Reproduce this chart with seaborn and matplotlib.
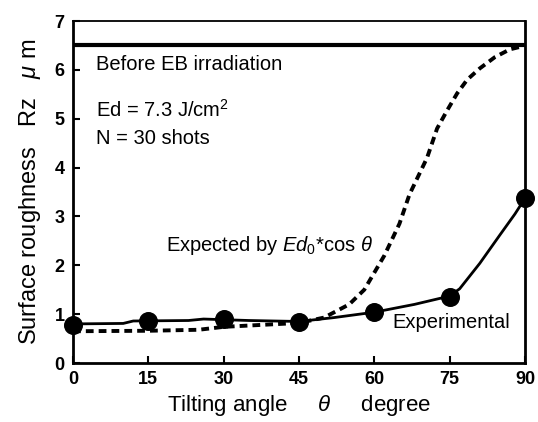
import matplotlib
matplotlib.use("Agg")
import matplotlib.pyplot as plt
import seaborn as sns
import pandas as pd

# Experimental data points
exp_angle = [0, 15, 30, 45, 60, 75, 90]
exp_rz = [0.78, 0.86, 0.90, 0.84, 1.04, 1.35, 3.37]

# Experimental guide line
fit_angle = [0, 10, 12, 23, 26, 35, 45, 52, 60, 68, 75, 77, 81, 85, 88, 90]
fit_rz = [0.80, 0.81, 0.86, 0.87, 0.90, 0.87, 0.85, 0.93, 1.04, 1.20, 1.37, 1.52, 2.04, 2.62, 3.05, 3.37]

# Expected curve Ed0*cos(theta)
expc_angle = [0, 15, 25, 30, 45, 50, 55, 58, 62, 65, 67, 70.5, 72.5, 74.5, 76.5, 78.5, 81, 84, 87, 89]
expc_rz = [0.65, 0.66, 0.68, 0.74, 0.82, 0.93, 1.2, 1.5, 2.2, 2.85, 3.45, 4.2, 4.8, 5.17, 5.52, 5.8, 6.03, 6.26, 6.42, 6.47]

before_eb = 6.5

x_ticks = [0, 15, 30, 45, 60, 75, 90]
y_ticks = [0, 1, 2, 3, 4, 5, 6, 7]

sns.set_theme(style="ticks")
plt.rcParams['font.family'] = ['Liberation Sans', 'DejaVu Sans']
plt.rcParams['mathtext.fontset'] = 'custom'
plt.rcParams['mathtext.rm'] = 'Liberation Sans'
plt.rcParams['mathtext.it'] = 'Liberation Sans:italic'
plt.rcParams['text.color'] = 'black'
plt.rcParams['axes.labelcolor'] = 'black'
plt.rcParams['xtick.color'] = 'black'
plt.rcParams['ytick.color'] = 'black'

fig = plt.figure(figsize=(5.38, 4.22), dpi=100)
ax = fig.add_axes([0.1357, 0.1398, 0.9758 - 0.1357, 0.9502 - 0.1398])

df_fit = pd.DataFrame({"a": fit_angle, "r": fit_rz})
df_exp = pd.DataFrame({"a": exp_angle, "r": exp_rz})
df_expc = pd.DataFrame({"a": expc_angle, "r": expc_rz})

sns.lineplot(data=df_expc, x="a", y="r", ax=ax, color="black", lw=2.8,
             linestyle=(0, (2.0, 1.3)), estimator=None, sort=False)
sns.lineplot(data=df_fit, x="a", y="r", ax=ax, color="black", lw=2.0,
             estimator=None, sort=False)
sns.scatterplot(data=df_exp, x="a", y="r", ax=ax, color="black", s=160,
                edgecolor="black", zorder=5, clip_on=False)
ax.axhline(before_eb, color="black", lw=3)

ax.set_xlim(0, 90)
ax.set_ylim(0, 7)
ax.set_xticks(x_ticks)
ax.set_yticks(y_ticks)
ax.tick_params(direction="in", length=5, width=1.5, labelsize=13, pad=6, colors="black")
for lbl in ax.get_xticklabels() + ax.get_yticklabels():
    lbl.set_fontweight("bold")
for s in ["left", "bottom", "right"]:
    ax.spines[s].set_linewidth(2)
ax.spines["top"].set_linewidth(1.3)
for s in ax.spines.values():
    s.set_color("black")

ax.set_xlabel(r"Tilting angle     $\theta$     degree", fontsize=16, labelpad=3, color="black")
ax.set_ylabel(r"Surface roughness   Rz   $\mu$ m", fontsize=17, labelpad=8, color="black")

fs = 14.5
ax.text(4.5, 6.1, "Before EB irradiation", fontsize=fs, va="center", ha="left", color="black")
ax.text(4.5, 5.18, r"Ed = 7.3 J/cm$^2$", fontsize=fs, va="center", ha="left", color="black")
ax.text(4.5, 4.6, "N = 30 shots", fontsize=fs, va="center", ha="left", color="black")
ax.text(59.8, 2.4, r"Expected by $Ed_0$*cos $\theta$", fontsize=fs, va="center", ha="right", color="black")
ax.text(63.5, 0.82, "Experimental", fontsize=fs, va="center", ha="left", color="black")

fig.savefig("out.png", dpi=100)
